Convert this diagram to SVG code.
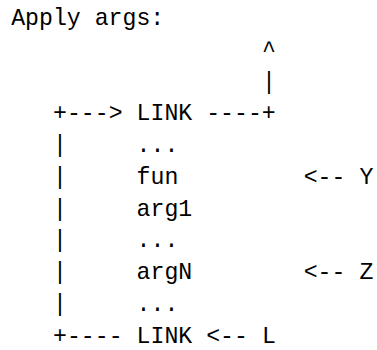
<svg xmlns="http://www.w3.org/2000/svg" width="377" height="350" viewBox="0 0 377 350">
<style>
text{font-family:"Liberation Mono","DejaVu Sans Mono",monospace;font-size:23.2px;fill:#000;white-space:pre}
</style>
<rect width="377" height="350" fill="#fff"/>
<g id="title"><text x="11.2" y="25">Apply args:</text></g>
<g id="connectors">
<text x="261.9" y="56.75">^</text>
<text x="261.9" y="88.5">|</text>
<text x="53" y="120.25">+---&gt;</text>
<text x="206.2" y="120.25">----+</text>
<text x="53" y="152">|</text>
<text x="53" y="183.75">|</text>
<text x="53" y="215.5">|</text>
<text x="53" y="247.25">|</text>
<text x="53" y="279">|</text>
<text x="53" y="310.75">|</text>
<text x="53" y="342.5">+----</text>
<text x="206.2" y="342.5">&lt;--</text>
<text x="303.7" y="183.75">&lt;--</text>
<text x="303.7" y="279">&lt;--</text>
</g>
<g id="link-top"><text x="136.6" y="120.25">LINK</text></g>
<g id="dots1"><text x="136.6" y="152">...</text></g>
<g id="fun"><text x="136.6" y="183.75">fun</text></g>
<g id="arg1"><text x="136.6" y="215.5">arg1</text></g>
<g id="dots2"><text x="136.6" y="247.25">...</text></g>
<g id="argN"><text x="136.6" y="279">argN</text></g>
<g id="dots3"><text x="136.6" y="310.75">...</text></g>
<g id="link-bottom"><text x="136.6" y="342.5">LINK</text></g>
<g id="label-Y"><text x="359.5" y="183.75">Y</text></g>
<g id="label-Z"><text x="359.5" y="279">Z</text></g>
<g id="label-L"><text x="261.9" y="342.5">L</text></g>
</svg>
